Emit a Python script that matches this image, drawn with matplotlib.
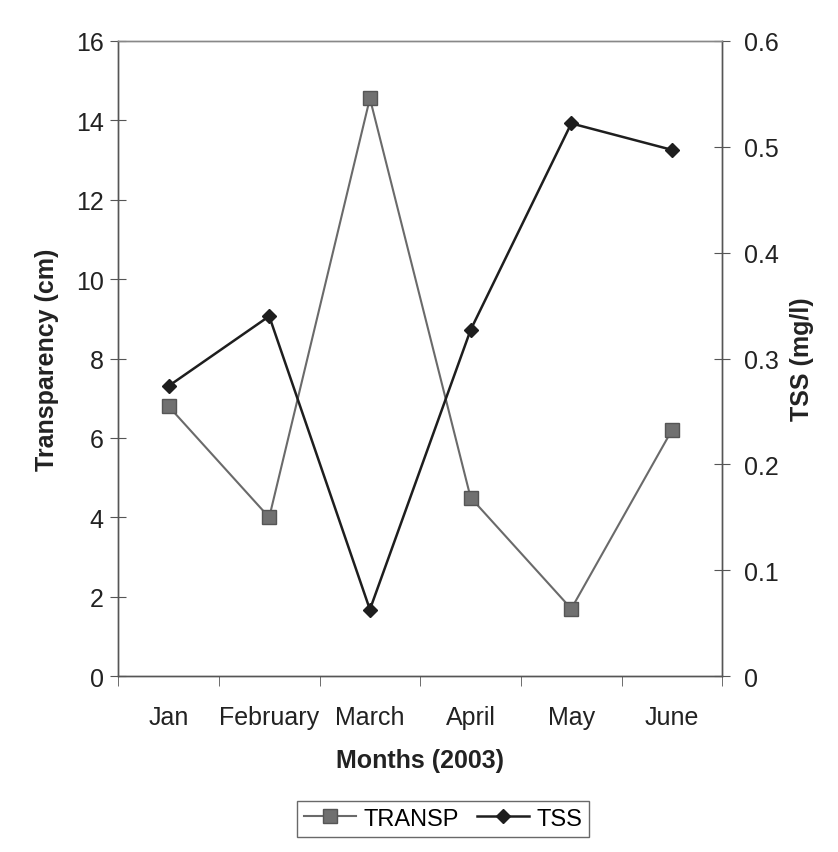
import numpy as np
import matplotlib.pyplot as plt

plt.rcParams['font.family'] = ['Liberation Sans', 'DejaVu Sans']

# data
months = ['Jan', 'February', 'March', 'April', 'May', 'June']
transp = [6.8, 4.0, 14.55, 4.5, 1.7, 6.2]
tss = [0.274, 0.34, 0.063, 0.327, 0.522, 0.497]

fig = plt.figure(figsize=(8.38, 8.53), dpi=100)
ax = fig.add_axes([0.141, 0.206, 0.721, 0.745])
ax2 = ax.twinx()

x = np.arange(len(months))
l1, = ax.plot(x, transp, color='#6a6a6a', lw=1.5, marker='s', ms=10,
              mfc='#707070', mec='#555555', label='TRANSP', zorder=3)
l2, = ax2.plot(x, tss, color='#1e1e1e', lw=1.8, marker='D', ms=7.5,
               mfc='#1e1e1e', mec='#1e1e1e', label='TSS', zorder=3)

ax.set_xlim(-0.5, len(months) - 0.5)
ax.set_ylim(0, 16)
ax2.set_ylim(0, 0.6)
ax.set_yticks(np.arange(0, 17, 2))
ax2.set_yticks([0, 0.1, 0.2, 0.3, 0.4, 0.5, 0.6])
ax2.set_yticklabels(['0', '0.1', '0.2', '0.3', '0.4', '0.5', '0.6'])

# category labels centred, tick marks between categories
ax.set_xticks(x)
ax.set_xticklabels(months)
ax.set_xticks(np.arange(-0.5, len(months), 1), minor=True)
ax.tick_params(axis='x', which='major', length=0, labelsize=18, pad=21, colors='#222222')
ax.tick_params(axis='x', which='minor', length=7, direction='out', color='#555555')
ax.tick_params(axis='y', direction='inout', length=11, labelsize=18, pad=5,
               colors='#222222', color='#555555')
ax2.tick_params(axis='y', direction='inout', length=11, labelsize=18, pad=10,
                colors='#222222', color='#555555')

for a in (ax, ax2):
    for s in a.spines.values():
        s.set_color('#555555')
        s.set_linewidth(1.0)
    a.spines['top'].set_color('#888888')

ax.set_xlabel('Months (2003)', fontsize=18, fontweight='bold', labelpad=13, color='#222222')
ax.set_ylabel('Transparency (cm)', fontsize=18, fontweight='bold', labelpad=12, color='#222222')
ax2.set_ylabel('TSS (mg/l)', fontsize=18, fontweight='bold', labelpad=8, color='#222222')

leg = fig.legend(handles=[l1, l2], loc='center', bbox_to_anchor=(0.529, 0.039), ncol=2,
                 fontsize=17, frameon=True, fancybox=False, handlelength=2.2,
                 handletextpad=0.3, columnspacing=0.8, borderpad=0.3)
leg.get_frame().set_edgecolor('#444444')
leg.get_frame().set_linewidth(1.0)

fig.savefig('out.png', dpi=100)
